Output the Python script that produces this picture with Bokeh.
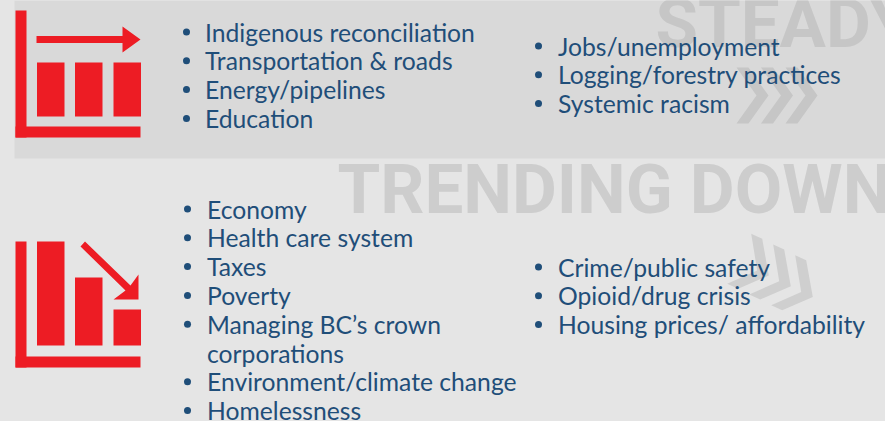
from bokeh.plotting import figure
from bokeh.models import Range1d
from bokeh.core.properties import value
from bokeh.embed import file_html
from bokeh.resources import INLINE

# ---- content ----
steady_left = ["Indigenous reconciliation", "Transportation & roads", "Energy/pipelines", "Education"]
steady_right = ["Jobs/unemployment", "Logging/forestry practices", "Systemic racism"]
down_left = ["Economy", "Health care system", "Taxes", "Poverty", "Managing BC’s crown",
             "corporations", "Environment/climate change", "Homelessness"]
down_left_bulleted = [True, True, True, True, True, False, True, True]
down_right = ["Crime/public safety", "Opioid/drug crisis", "Housing prices/ affordability"]
ghost_labels = ["STEADY", "TRENDING DOWN"]
steady_bar_tops = [62, 62, 62]
down_bar_tops = [241, 277, 309]

BG, BAND, RED, BLUE = "#e5e5e5", "#d9d9d9", "#ed1c24", "#1f4e79"
FONT, SIZE, GHOST_SIZE = "Lato", "24.7px", "69px"
PITCH = 28.8

W, H = 885, 421
p = figure(width=W, height=H, output_backend="svg", toolbar_location=None,
           x_range=Range1d(0, W), y_range=Range1d(H, 0),
           background_fill_color=BG, border_fill_color=BG, outline_line_color=None,
           min_border=0, x_axis_type=None, y_axis_type=None)
p.grid.visible = False

p.quad(left=[14], right=[885], top=[0], bottom=[158], color=BAND, line_color=None)

# ghost headings
p.text(x=[655, 337], y=[23, 189], text=ghost_labels, text_font=value("Roboto"),
       text_font_style="bold", text_font_size=GHOST_SIZE,
       text_color=["#c6c6c6", "#cdcdcd"], text_baseline="alphabetic", text_align="left")

# chevrons
def chevrons(pts, step, color):
    xs, ys = [], []
    for i in range(3):
        xs.append([a + i * step[0] for a, _ in pts])
        ys.append([b + i * step[1] for _, b in pts])
    p.patches(xs, ys, color=color, line_color=None)

chevrons([(736, 67), (748, 67), (768, 95), (748, 123), (736, 123), (756, 95)], (24.5, 0), "#c6c6c6")
chevrons([(750.7, 233.3), (761.7, 238.3), (768.3, 275), (737.7, 288.3), (726.7, 283.3), (756.7, 270)],
         (22, 10.7), "#cfcfcf")

# icons
def icon(y_top, y_bottom, tops, bar_bottom):
    p.quad(left=[15, 15], right=[26, 140], top=[y_top, y_bottom - 11], bottom=[y_bottom, y_bottom],
           color=RED, line_color=None)
    p.quad(left=[36.5, 74.5, 113], right=[64, 102, 140.5], top=tops, bottom=[bar_bottom] * 3,
           color=RED, line_color=None)

icon(10, 137, steady_bar_tops, 116)
icon(241, 367, down_bar_tops, 345)
p.patch([36, 122, 122, 140, 122, 122, 36], [35.5, 35.5, 26, 39, 52, 42.5, 42.5], color=RED, line_color=None)
p.patch([80, 84.5, 130, 138, 138, 113, 125], [246, 241, 285, 274, 299, 299, 290], color=RED, line_color=None)

# bullet lists
def bullets(labels, text_x, bullet_x, first_y, flags=None):
    ys = [first_y + i * PITCH for i in range(len(labels))]
    p.text(x=[text_x] * len(labels), y=ys, text=labels, text_font=value(FONT), text_font_size=SIZE,
           text_color=BLUE, text_baseline="middle", text_align="left")
    flags = flags or [True] * len(labels)
    bys = [y for y, f in zip(ys, flags) if f]
    p.scatter(x=[bullet_x] * len(bys), y=bys, size=7, color=BLUE, line_color=None)

bullets(steady_left, 204.5, 186, 31.5)
bullets(steady_right, 557.5, 538, 45.5)
bullets(down_left, 206.5, 187, 208.5, down_left_bulleted)
bullets(down_right, 557.5, 538, 266.5)

html = file_html(p, INLINE)
html = html.replace("<head>", "<head><style>html,body{background:%s}</style>" % BG, 1)
open("out.html", "w").write(html)
